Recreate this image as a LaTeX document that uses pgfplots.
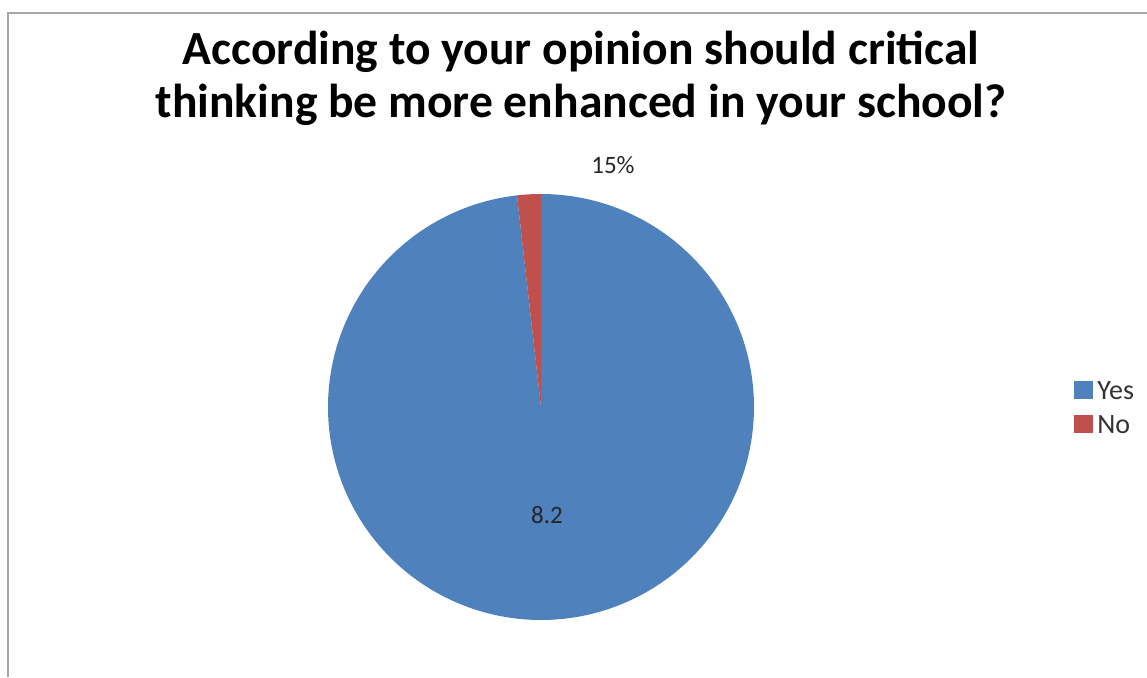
\documentclass[border=0pt]{standalone}
\usepackage{pgfplots}
\usepackage{pgfplotstable}
\pgfplotsset{compat=1.18}
\usepackage{fontspec}
\setmainfont{Carlito}
\definecolor{pieblue}{HTML}{4F81BD}
\definecolor{piered}{HTML}{C0504D}
\definecolor{framegray}{HTML}{A6A6A6}
\pgfplotstableread{
label value
Yes 98.2
No 1.8
}\piedata
\pgfplotstablegetelem{0}{value}\of\piedata
\let\yesval\pgfplotsretval
\pgfplotstablegetelem{1}{value}\of\piedata
\let\noval\pgfplotsretval
\pgfmathsetmacro{\yesang}{\yesval*3.6}
\pgfmathsetmacro{\noang}{\noval*3.6}
\pgfmathsetmacro{\startang}{90+\noang-360}
\pgfmathsetmacro{\endno}{90+\noang}
\begin{document}
\begin{tikzpicture}
\begin{axis}[
  at={(0,0)}, anchor=south west,
  width=573.5pt, height=338.5pt, scale only axis,
  xmin=0, xmax=1147, ymin=0, ymax=677,
  hide axis, clip=false,
]
% frame
\draw[framegray, line width=1pt] (axis cs:7.5,0) -- (axis cs:7.5,664.5) -- (axis cs:1147,664.5);
% pie slices
\addplot[fill=pieblue, draw=none, domain=\startang:90, samples=300, variable=\t]
  ({541+213*cos(\t)},{270+213*sin(\t)}) -- (axis cs:541,270) -- cycle;
\addplot[fill=piered, draw=none, domain=90:\endno, samples=10, variable=\t]
  ({541+213*cos(\t)},{270+213*sin(\t)}) -- (axis cs:541,270) -- cycle;
% title
\node[anchor=base, font=\fontsize{23.8}{28}\selectfont\bfseries] at (axis cs:581,613) {According to your opinion should critical};
\node[anchor=base, font=\fontsize{23.8}{28}\selectfont\bfseries] at (axis cs:581,560) {thinking be more enhanced in your school?};
% data labels
\node[anchor=base, font=\fontsize{12.5}{15}\selectfont, text=black!85] at (axis cs:613,504) {15\%};
\node[anchor=base, font=\fontsize{12.5}{15}\selectfont, text=black!85] at (axis cs:547,154) {8.2};
% legend
\fill[pieblue] (axis cs:1074,278) rectangle (axis cs:1093,296);
\fill[piered] (axis cs:1074,244) rectangle (axis cs:1093,262);
\node[anchor=base west, inner sep=0pt, font=\fontsize{14}{16}\selectfont, text=black!80] at (axis cs:1097,278) {Yes};
\node[anchor=base west, inner sep=0pt, font=\fontsize{14}{16}\selectfont, text=black!80] at (axis cs:1097,244) {No};
\end{axis}
\pgfresetboundingbox
\path (0,0) rectangle (573.5pt,338.5pt);
\end{tikzpicture}
\end{document}
